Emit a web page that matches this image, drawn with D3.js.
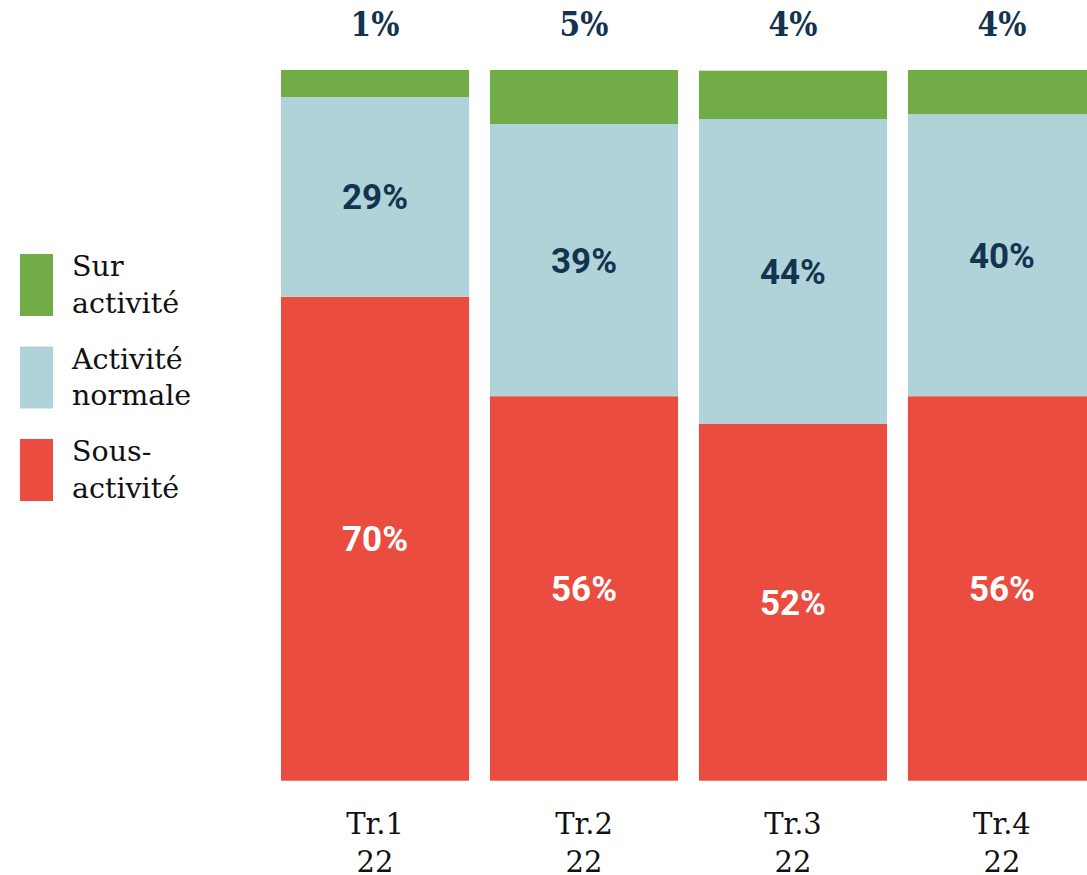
<!DOCTYPE html>
<html>
<head>
<meta charset="utf-8">
<script src="https://cdn.jsdelivr.net/npm/d3@7"></script>
<style>
  html, body { margin: 0; padding: 0; background: #fff; }
  svg { display: block; }
  .legend text, .cat text { font-family: "DejaVu Serif", serif; fill: #111; }
  .top-label { font-family: "DejaVu Serif", serif; font-weight: bold; font-stretch: condensed; fill: #14334f; }
  .in-label { font-family: Roboto, "Noto Sans", sans-serif; font-weight: bold; }
</style>
</head>
<body>
<main></main>
<script>
const quarters = ["Tr.1", "Tr.2", "Tr.3", "Tr.4"];
const year = "22";

// segment sizes (share of the bar, %)
const sousActivite = [68.1, 54.1, 50.2, 54.1];
const activiteNormale = [28.1, 38.3, 42.9, 39.7];
const surActivite = [3.8, 7.6, 6.8, 6.2];

// labels printed on the chart
const sousLabels = ["70%", "56%", "52%", "56%"];
const normaleLabels = ["29%", "39%", "44%", "40%"];
const surLabels = ["1%", "5%", "4%", "4%"];

const series = [
  {key: "sous", name: ["Sous-", "activité"], color: "#ea4c3f", text: "#fff", values: sousActivite, labels: sousLabels},
  {key: "normale", name: ["Activité", "normale"], color: "#b0d3da", text: "#14334f", values: activiteNormale, labels: normaleLabels},
  {key: "sur", name: ["Sur", "activité"], color: "#71ac47", text: "#14334f", values: surActivite, labels: surLabels}
];

const W = 1087, H = 875;

const svg = d3.select("main").append("svg")
    .attr("width", W)
    .attr("height", H);

const x = d3.scaleBand()
    .domain(quarters)
    .range([281, 1096])
    .paddingInner(0.1)
    .paddingOuter(0);

const y = d3.scaleLinear()
    .domain([0, 100])
    .range([780.7, 70]);

// build stack rows
const rows = quarters.map((q, i) => {
  const r = {q};
  series.forEach(s => r[s.key] = s.values[i]);
  return r;
});
const stacked = d3.stack().keys(series.map(s => s.key))(rows);

const layers = svg.selectAll(".layer")
    .data(stacked)
  .enter().append("g")
    .attr("class", "layer")
    .attr("fill", (d, i) => series[i].color);

layers.selectAll("rect")
    .data(d => d)
  .enter().append("rect")
    .attr("x", d => x(d.data.q))
    .attr("width", x.bandwidth())
    .attr("y", d => y(d[1]))
    .attr("height", d => y(d[0]) - y(d[1]));

// labels inside red and blue segments
stacked.slice(0, 2).forEach((layer, li) => {
  const s = series[li];
  svg.append("g").selectAll("text")
      .data(layer)
    .enter().append("text")
      .attr("class", "in-label")
      .attr("x", d => x(d.data.q) + x.bandwidth() / 2)
      .attr("y", d => (y(d[0]) + y(d[1])) / 2)
      .attr("dy", "0.36em")
      .attr("text-anchor", "middle")
      .style("font-size", "35px")
      .style("fill", s.text)
      .text((d, i) => s.labels[i]);
});

// small green share goes above the bar
svg.append("g").selectAll("text")
    .data(quarters)
  .enter().append("text")
    .attr("class", "top-label")
    .attr("x", d => x(d) + x.bandwidth() / 2)
    .attr("y", 36)
    .attr("text-anchor", "middle")
    .style("font-size", "33px")
    .text((d, i) => surLabels[i]);

// category labels
const cat = svg.append("g").attr("class", "cat")
  .selectAll("text")
    .data(quarters)
  .enter().append("text")
    .attr("x", d => x(d) + x.bandwidth() / 2)
    .attr("y", 834)
    .attr("text-anchor", "middle")
    .style("font-size", "29px");
cat.append("tspan").text(d => d);
cat.append("tspan")
    .attr("x", d => x(d) + x.bandwidth() / 2)
    .attr("dy", 38)
    .text(year);

// legend
const legend = svg.selectAll(".legend")
    .data(series.slice().reverse())
  .enter().append("g")
    .attr("class", "legend")
    .attr("transform", (d, i) => `translate(20, ${254 + i * 92.5})`);

legend.append("rect")
    .attr("width", 33)
    .attr("height", 62)
    .attr("fill", d => d.color);

legend.append("text")
    .attr("x", 52)
    .attr("y", 22)
    .style("font-size", "28.5px")
  .selectAll("tspan")
    .data(d => d.name)
  .enter().append("tspan")
    .attr("x", 52)
    .attr("dy", (d, i) => i ? 36.7 : 0)
    .text(d => d);
</script>
</body>
</html>
